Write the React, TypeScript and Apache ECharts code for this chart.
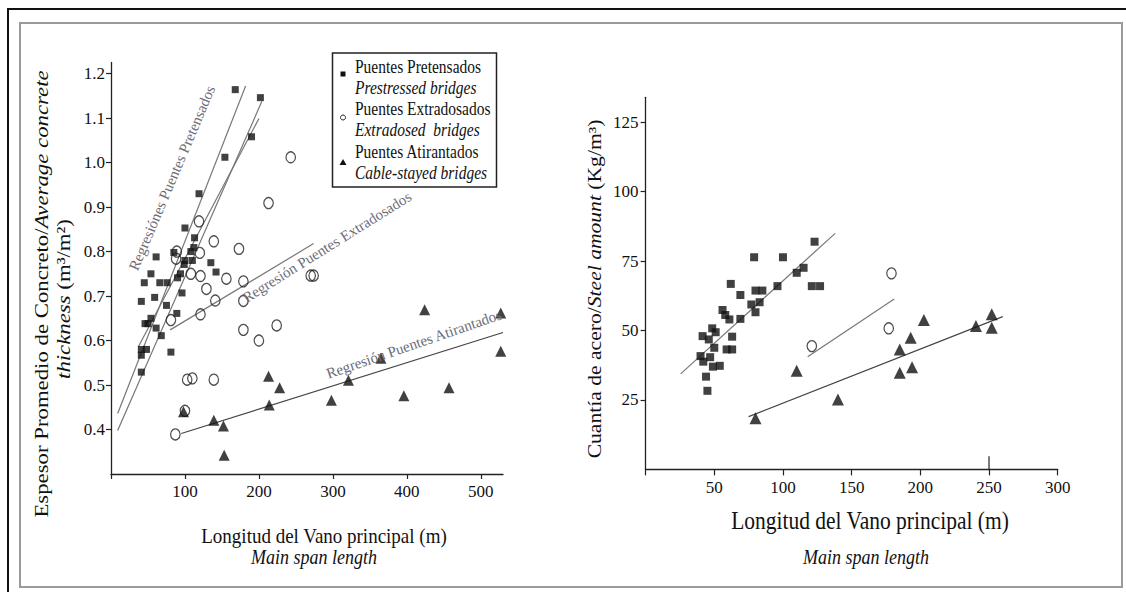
import React, { useEffect, useRef } from "react";
import * as echarts from "echarts";

// ---------- Data (left chart: concrete thickness) ----------
const leftPretensados: number[][] = [
  [168, 1.164], [202, 1.146], [190, 1.058], [154, 1.012], [119, 0.93], [100, 0.853], [113, 0.831],
  [112, 0.809], [108, 0.8], [85, 0.798], [61, 0.788], [100, 0.78], [110, 0.78], [135, 0.775],
  [99, 0.771], [142, 0.754], [54, 0.75], [94, 0.75], [90, 0.741], [45, 0.73], [66, 0.73], [76, 0.73],
  [96, 0.707], [59, 0.697], [75, 0.679], [41, 0.688], [89, 0.661], [54, 0.65], [46, 0.638], [50, 0.638],
  [61, 0.628], [68, 0.611], [81, 0.574], [41, 0.58], [48, 0.58], [41, 0.567], [41, 0.529],
];
const leftExtradosados: number[][] = [
  [243, 1.012], [213, 0.909], [119, 0.868], [139, 0.823], [173, 0.806], [120, 0.797], [89, 0.8],
  [88, 0.784], [108, 0.75], [121, 0.745], [156, 0.739], [179, 0.733], [129, 0.716], [141, 0.69],
  [179, 0.689], [270, 0.746], [274, 0.746], [121, 0.659], [81, 0.646], [224, 0.634], [179, 0.624],
  [200, 0.6], [103, 0.512], [110, 0.515], [139, 0.512], [100, 0.442], [87, 0.389],
];
const leftAtirantados: number[][] = [
  [424, 0.669], [527, 0.662], [527, 0.576], [365, 0.56], [213, 0.52], [228, 0.494], [457, 0.494],
  [321, 0.511], [396, 0.476], [298, 0.466], [214, 0.455], [98, 0.44], [139, 0.421], [152, 0.408], [153, 0.342],
];
const leftRegPreA: number[][] = [[9, 0.436], [182, 1.172]];
const leftRegPreB: number[][] = [[9, 0.398], [204, 1.138]];
const leftRegPreC: number[][] = [[37, 0.586], [200, 1.099]];
const leftRegExt: number[][] = [[80, 0.624], [274, 0.818]];
const leftRegAti: number[][] = [[95, 0.391], [530, 0.618]];
const leftXTicks = [0, 100, 200, 300, 400, 500];
const leftXLabels = [100, 200, 300, 400, 500];
const leftYTicks = [0.4, 0.5, 0.6, 0.7, 0.8, 0.9, 1.0, 1.1, 1.2];

// ---------- Data (right chart: steel amount) ----------
const rightPretensados: number[][] = [
  [123, 82.0], [79, 76.4], [100, 76.4], [115, 72.6], [110, 70.8], [62, 66.8], [121, 66.0], [127, 66.0],
  [96, 66.0], [80, 64.4], [85, 64.4], [69, 62.8], [83, 60.2], [77, 59.4], [80, 56.6], [56, 57.4],
  [58, 55.6], [61, 54.0], [69, 54.2], [48.5, 50.8], [51, 49.4], [41.5, 48.0], [63, 47.8], [46, 46.8],
  [50, 43.8], [59, 43.2], [63, 43.2], [40, 40.8], [47, 40.4], [42, 38.8], [54, 37.3], [49, 37.0],
  [44, 33.4], [45, 28.3],
];
const rightExtradosados: number[][] = [[179, 70.6], [177, 50.8], [121, 44.4]];
const rightAtirantados: number[][] = [
  [252, 55.9], [252, 51.0], [240.5, 51.6], [202.6, 53.8], [193, 47.4], [185, 43.2], [194, 36.8],
  [185, 34.8], [110, 35.5], [140, 25.2], [80, 18.4],
];
const rightRegPre: number[][] = [[25.5, 34.4], [138, 85.0]];
const rightRegExt: number[][] = [[118, 40.6], [181, 61.4]];
const rightRegAti: number[][] = [[75, 19.0], [260, 55.0]];
const rightStrayMark: number[][] = [[250, 0], [250, 4.7]];
const rightXTicks = [0, 50, 100, 150, 200, 250, 300];
const rightXLabels = [50, 100, 150, 200, 250, 300];
const rightYTicks = [25, 50, 75, 100, 125];

const SERIF = "Liberation Serif";
const INK = "#111";

// rich-text helpers (serif regular "r" / italic "i")
const richSet = (size: number, fill = INK) => ({
  r: { fontFamily: SERIF, fontSize: size, fill, color: fill },
  i: { fontFamily: SERIF, fontSize: size, fontStyle: "italic", fill, color: fill },
});

function axis(gridIndex: number, min: number, max: number, ticks: number[], labels: number[],
  fmt: (v: number) => string, margin: number, tickLen: number) {
  return {
    type: "value", gridIndex, min, max,
    axisLine: { show: true, onZero: false, lineStyle: { color: "#222", width: 1.3 } },
    axisTick: { show: true, inside: false, length: tickLen, customValues: ticks, lineStyle: { color: "#222", width: 1.2 } },
    axisLabel: {
      customValues: labels, margin,
      formatter: (v: number) => `{r|${fmt(v)}}`,
      rich: { r: { fontFamily: SERIF, fontSize: 17, color: INK } },
    },
    splitLine: { show: false },
  };
}

function scatter(data: number[][], gi: number, kind: string, size: number) {
  const open = kind === "circle";
  return {
    type: "scatter", xAxisIndex: gi, yAxisIndex: gi, data,
    symbol: kind, symbolSize: open ? [size, size * 1.15] : size,
    itemStyle: open
      ? { color: "rgba(255,255,255,0)", borderColor: "#222", borderWidth: 1.3 }
      : { color: "#111" },
    z: 3,
  };
}

function reg(data: number[][], gi: number, color = "#777", width = 1.2) {
  return {
    type: "line", xAxisIndex: gi, yAxisIndex: gi, data, symbol: "none",
    lineStyle: { color, width }, z: 2, silent: true,
  };
}

function txt(x: number, y: number, text: string, size: number, opts: any = {}) {
  const { rotation = 0, scaleX = 1, scaleY = 1, align = "center", fill = INK, z = 6 } = opts;
  return {
    type: "text", x, y, rotation, scaleX, scaleY, z,
    style: { text, rich: richSet(size, fill), align, verticalAlign: "middle" },
  };
}

const deg = (d: number) => (d * Math.PI) / 180;

const option: any = {
  animation: false,
  backgroundColor: "#fff",
  grid: [
    { left: 111, top: 62.5, width: 392, height: 411.5 },
    { left: 645.6, top: 97.3, width: 412.1, height: 372.1 },
  ],
  xAxis: [
    axis(0, 0, 530, leftXTicks, leftXLabels, (v: number) => String(v), 9, 5),
    axis(1, 0, 300, rightXTicks, rightXLabels, (v: number) => String(v), 10, 6),
  ],
  yAxis: [
    axis(0, 0.3, 1.225, leftYTicks, leftYTicks, (v: number) => v.toFixed(1), 6, 5),
    axis(1, 0, 134, rightYTicks, rightYTicks, (v: number) => String(v), 7, 5),
  ],
  series: [
    reg(leftRegPreA, 0), reg(leftRegPreB, 0), reg(leftRegPreC, 0),
    reg(leftRegExt, 0), reg(leftRegAti, 0, "#444"),
    scatter(leftPretensados, 0, "rect", 7),
    scatter(leftExtradosados, 0, "circle", 9.5),
    scatter(leftAtirantados, 0, "triangle", 11),
    reg(rightRegPre, 1), reg(rightRegExt, 1), reg(rightRegAti, 1, "#444"),
    reg(rightStrayMark, 1, "#222", 1.2),
    scatter(rightPretensados, 1, "rect", 8),
    scatter(rightExtradosados, 1, "circle", 9.5),
    scatter(rightAtirantados, 1, "triangle", 12),
  ],
  graphic: [
    // frame
    { type: "rect", z: 1, shape: { x: 20, y: 23, width: 1102, height: 564 }, style: { fill: "none", stroke: "#9a9a9a", lineWidth: 2 }, silent: true },
    { type: "line", z: 1, shape: { x1: 7, y1: 9, x2: 1126, y2: 9 }, style: { stroke: "#111", lineWidth: 2 } },
    { type: "line", z: 1, shape: { x1: 8, y1: 8, x2: 8, y2: 592 }, style: { stroke: "#111", lineWidth: 2 } },
    // legend
    { type: "rect", z: 10, shape: { x: 332.5, y: 53, width: 164, height: 134 }, style: { fill: "#fff", stroke: "#222", lineWidth: 1.5 } },
    { type: "rect", z: 11, shape: { x: 340.5, y: 71.5, width: 5, height: 5 }, style: { fill: "#111" } },
    { type: "circle", z: 11, shape: { cx: 343, cy: 117.5, r: 2.5 }, style: { fill: "none", stroke: "#222", lineWidth: 1 } },
    { type: "polygon", z: 11, shape: { points: [[339.5, 165], [346.5, 165], [343, 159]] }, style: { fill: "#111" } },
    txt(355, 67, "{r|Puentes Pretensados}", 15.5, { align: "left", scaleY: 1.15, z: 11 }),
    txt(355, 88, "{i|Prestressed bridges}", 15.5, { align: "left", scaleY: 1.15, z: 11 }),
    txt(355, 109, "{r|Puentes Extradosados}", 15.5, { align: "left", scaleY: 1.15, z: 11 }),
    txt(355, 130, "{i|Extradosed  bridges}", 15.5, { align: "left", scaleY: 1.15, z: 11 }),
    txt(355, 152, "{r|Puentes Atirantados}", 15.5, { align: "left", scaleY: 1.15, z: 11 }),
    txt(355, 173, "{i|Cable-stayed bridges}", 15.5, { align: "left", scaleY: 1.15, z: 11 }),
    // regression labels
    txt(172, 178, "{r|Regresiónes Puentes Pretensados}", 15, { rotation: deg(67), fill: "#6c6c78", z: 5 }),
    txt(327, 247, "{r|Regresión Puentes Extradosados}", 15, { rotation: deg(32), fill: "#6c6c78", z: 5 }),
    txt(414, 344, "{r|Regresión Puentes Atirantados}", 15, { rotation: deg(19), fill: "#6c6c78", z: 5 }),
    // left axis titles
    txt(42, 294, "{r|Espesor Promedio de Concreto/}{i|Average concrete}", 19, { rotation: Math.PI / 2, scaleX: 1.2 }),
    txt(64, 299, "{i|thickness}{r| (m³/m²)}", 19, { rotation: Math.PI / 2, scaleX: 1.2 }),
    txt(324, 536, "{r|Longitud del Vano principal (m)}", 19, { scaleY: 1.15 }),
    txt(314, 557, "{i|Main span length}", 18, { scaleY: 1.15 }),
    // right axis titles
    txt(595, 289, "{r|Cuantía de acero/}{i|Steel amount}{r| (Kg/m³)}", 18, { rotation: Math.PI / 2, scaleX: 1.2 }),
    txt(870, 520, "{r|Longitud del Vano principal (m)}", 21.5, { scaleY: 1.15 }),
    txt(866, 557, "{i|Main span length}", 18, { scaleY: 1.15 }),
  ],
};

export default function App() {
  const ref = useRef<HTMLDivElement>(null);
  useEffect(() => {
    if (!ref.current) return;
    const chart = echarts.init(ref.current, null, { renderer: "svg" });
    chart.setOption(option);
    return () => chart.dispose();
  }, []);
  return (
    <div
      ref={ref}
      style={{ position: "fixed", left: 0, top: 0, width: 1126, height: 592, background: "#fff" }}
    />
  );
}
